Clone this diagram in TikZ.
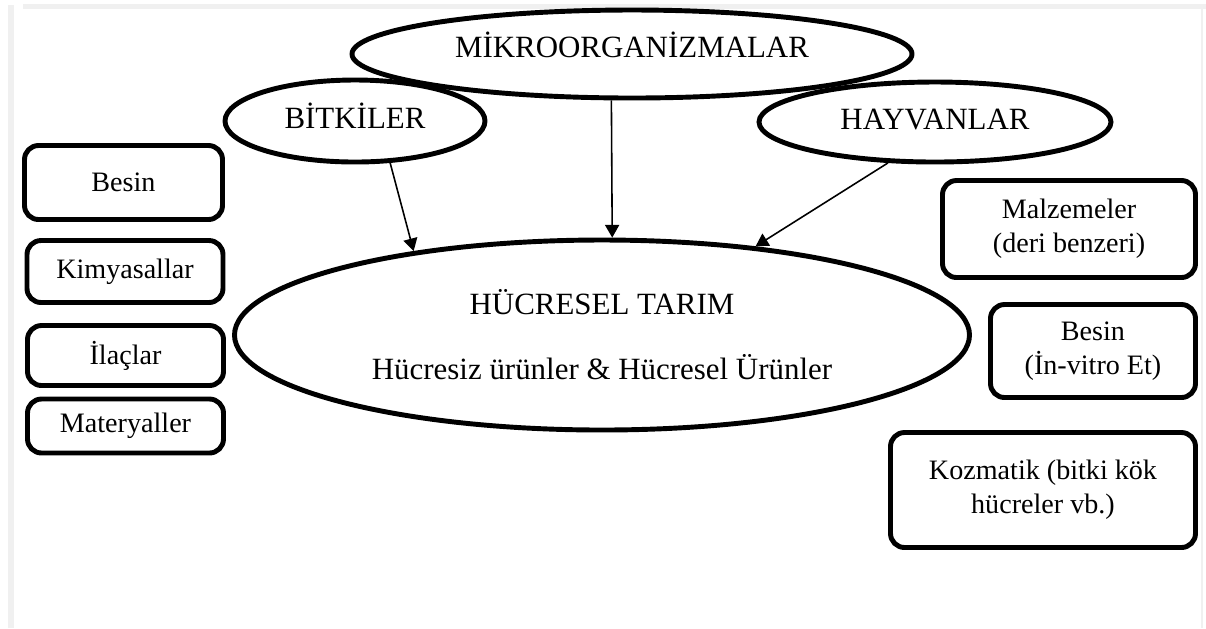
\documentclass[tikz,border=0pt]{standalone}
\usepackage{fontspec}
\setmainfont{Liberation Serif}
\usepackage{tikz}
\usetikzlibrary{shapes.geometric}
\usetikzlibrary{arrows.meta}
\definecolor{framegray}{RGB}{240,240,240}
\tikzset {
  >={Triangle[length=3.6pt, width=4pt]},
  % oval source nodes
  oval/.style = {draw, ellipse, line width=1.4pt, inner sep=0pt, font=\fontsize{8.8}{10.5}\selectfont},
  % one-line ovals, dotted capitals kept level
  tekoval/.style = {oval, text height=6pt, text depth=1.7pt},
  % rounded product boxes
  kutu/.style = {draw, rounded corners=4pt, line width=1.4pt, inner sep=0pt, align=center, font=\fontsize{8}{9.6}\selectfont},
  % arrows into the centre
  link/.style = {->, line width=0.45pt},
}

\begin{document}
\begin{tikzpicture}
        \useasboundingbox (0,0) rectangle (12.06,-6.28);
        \fill[framegray] (0.23,-0.04) rectangle (12.06,-0.09);
        \fill[framegray] (0.08,-0.05) rectangle (0.14,-6.28);
        \fill[framegray] (12.01,-0.09) rectangle (12.03,-6.28);

        \node[tekoval, text depth=4.3pt, minimum width=5.6cm, minimum height=0.88cm] (mikro) at (6.32,-0.54) {MİKROORGANİZMALAR};
        \node[tekoval, minimum width=2.6cm, minimum height=0.82cm] (bitki) at (3.55,-1.21) {BİTKİLER};
        \node[tekoval, minimum width=3.52cm, minimum height=0.8cm] (hayvan) at (9.35,-1.22) {HAYVANLAR};
        \node[oval, minimum width=7.35cm, minimum height=1.9cm, align=center] (tarim) at (6.02,-3.35)
          {HÜCRESEL TARIM \\[8pt] Hücresiz ürünler \& Hücresel Ürünler};

        \draw [link] (bitki.-50) -- (tarim.156);
        \draw [link] (mikro.-114) -- (tarim.84);
        \draw [link] (hayvan.-139) -- (tarim.30);

        % left column
        \node[kutu, minimum width=1.98cm, minimum height=0.74cm] (besin) at (1.235,-1.825) {Besin};
        \node[kutu, minimum width=1.96cm, minimum height=0.62cm] (kimya) at (1.25,-2.715) {Kimyasallar};
        \node[kutu, minimum width=1.96cm, minimum height=0.6cm] (ilac) at (1.255,-3.555) {İlaçlar};
        \node[kutu, minimum width=1.96cm, minimum height=0.54cm] (materyal) at (1.255,-4.26) {Materyaller};

        % right column
        \node[kutu, minimum width=2.53cm, minimum height=0.97cm] (malzeme) at (10.69,-2.29) {Malzemeler \\ (deri benzeri)};
        \node[kutu, minimum width=2.05cm, minimum height=0.93cm] (besinet) at (10.93,-3.51) {Besin \\ (İn-vitro Et)};
        \node[kutu, minimum width=3.05cm, minimum height=1.15cm] (kozmatik) at (10.43,-4.9) {Kozmatik (bitki kök \\ hücreler vb.)};
      \end{tikzpicture}
\end{document}
